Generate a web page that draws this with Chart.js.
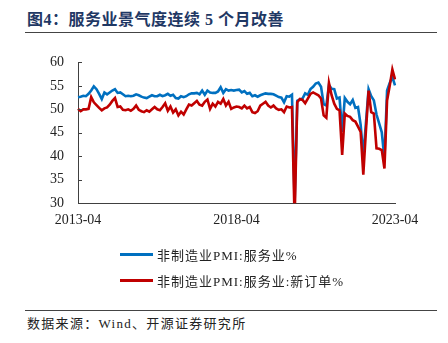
<!DOCTYPE html>
<html>
<head>
<meta charset="utf-8">
<script src="https://cdn.jsdelivr.net/npm/chart.js@4.4.0/dist/chart.umd.min.js"></script>
<style>
  body { margin: 0; width: 448px; height: 343px; background: #fff; position: relative; overflow: hidden;
         font-family: 'Liberation Serif', 'Noto Sans CJK SC', serif; color: #222; }
  #title { position: absolute; left: 27px; top: 10px; line-height: 20px; font-size: 16px; font-weight: bold;
           color: #1f3864; white-space: nowrap; letter-spacing: 0.5px; }
  .rule { position: absolute; left: 25px; width: 412px; height: 1px; background: #444; }
  #chartBox { position: absolute; left: 0; top: 40px; }
  #legend { position: absolute; left: 120px; top: 241px; font-size: 13px; letter-spacing: 1px; }
  .item { display: flex; align-items: center; height: 26px; white-space: nowrap; }
  .swatch { width: 33px; height: 3px; margin-right: 4px; }
  #source { position: absolute; left: 27px; top: 315px; line-height: 17px; font-size: 13px; letter-spacing: 1.3px; }
</style>
</head>
<body>
<div id="title">图4：服务业景气度连续 5 个月改善</div>
<div class="rule" style="top:32px"></div>
<div id="chartBox"><canvas id="myChart" width="448" height="206"></canvas></div>
<div id="legend"></div>
<div class="rule" style="top:310px"></div>
<div id="source">数据来源：Wind、开源证券研究所</div>
<script>
// 2013-04 ～ 2023-04 月度
const firstYear = 2013, firstMonth = 4, monthCount = 121;
const tickLabels = ['2013-04', '2018-04', '2023-04'];
const seriesNames = ['非制造业PMI:服务业%', '非制造业PMI:服务业:新订单%'];

// 服务业商务活动指数
const serviceIndex = [
  52.6, 52.7, 52.9, 52.8, 53.3, 54.0, 54.9, 54.3, 53.3, 52.2, 53.6, 53.2,
  53.6, 54.0, 54.3, 53.5, 53.6, 53.2, 52.8, 52.9, 52.8, 52.9, 53.2, 53.0,
  52.7, 52.5, 52.4, 52.7, 53.0, 52.8, 52.8, 53.1, 52.8, 53.0, 53.3, 52.9,
  53.1, 52.4, 52.3, 52.8, 52.6, 52.8, 53.2, 53.4, 53.4, 53.5, 53.2, 54.0,
  53.1, 54.0, 53.6, 53.5, 53.5, 53.8, 54.7, 53.5, 54.3, 54.0, 54.1, 54.0,
  54.1, 54.2, 53.6, 53.9, 53.3, 53.5, 52.8, 53.0, 52.7, 53.0, 53.2, 53.4,
  53.3, 53.3, 53.2, 52.9, 52.6, 52.5, 51.5, 52.8, 52.7, 53.1, 30.1, 51.8,
  52.1, 52.3, 53.4, 53.1, 54.3, 54.8, 55.5, 55.7, 54.8, 51.1, 50.8, 55.2,
  54.4, 54.3, 52.3, 52.5, 45.2, 52.4, 51.6, 51.1, 52.0, 50.3, 50.5, 46.7,
  40.0, 47.1, 54.3, 52.8, 51.9, 48.9, 47.0, 45.1, 39.4, 54.0, 55.6, 56.9,
  55.1
];

// 服务业新订单指数
const newOrders = [
  50.1, 49.6, 50.0, 50.0, 50.1, 52.6, 51.5, 50.9, 50.3, 49.8, 50.2, 50.4,
  51.0, 51.8, 52.4, 50.5, 50.6, 49.9, 49.8, 50.0, 49.7, 50.1, 50.8, 49.9,
  49.6, 49.4, 49.8, 49.5, 50.0, 50.5, 50.0, 49.8, 50.5, 51.3, 49.7, 50.6,
  49.3, 50.0, 48.7, 49.5, 48.9, 50.0, 51.0, 50.8, 51.3, 51.8, 51.0, 50.8,
  51.6, 52.1, 50.1, 51.2, 50.6, 51.6, 51.2, 52.2, 50.8, 51.6, 50.1, 50.4,
  50.6, 50.5, 50.2, 50.8, 50.2, 50.5, 49.4, 49.2, 49.6, 50.8, 51.2, 51.6,
  50.8, 50.4, 50.8, 50.2, 49.9, 50.0, 49.4, 50.6, 50.4, 50.5, 26.5, 51.5,
  52.2, 52.0, 51.3, 52.3, 53.3, 53.6, 53.3, 53.0, 52.3, 48.7, 48.2, 55.6,
  53.0, 51.2, 50.1, 49.8, 40.3, 49.1, 48.6, 48.4, 47.7, 47.4, 46.3, 45.2,
  36.1, 45.5, 54.0, 49.4, 49.1, 41.7, 41.6, 41.3, 37.4, 51.9, 55.0, 58.5,
  56.4
];

const months = [];
for (let i = 0; i < monthCount; i++) {
  const y = firstYear + Math.floor((firstMonth - 1 + i) / 12);
  const m = (firstMonth - 1 + i) % 12 + 1;
  months.push(y + '-' + String(m).padStart(2, '0'));
}

const colors = ['#0070c0', '#c00000'];
const axisColor = '#404040';
const tickFont = { family: "'Liberation Serif', serif", size: 14 };

// 内向刻度线
const tickMarks = {
  id: 'tickMarks',
  afterDraw(chart) {
    const { ctx, chartArea, scales: { x, y } } = chart;
    ctx.save();
    ctx.strokeStyle = axisColor;
    ctx.lineWidth = 1;
    y.ticks.forEach((t, i) => {
      const py = Math.round(y.getPixelForTick(i)) + 0.5;
      ctx.beginPath();
      ctx.moveTo(chartArea.left, py);
      ctx.lineTo(chartArea.left + 4, py);
      ctx.stroke();
    });
    x.ticks.forEach((t, i) => {
      if (!tickLabels.includes(months[i])) return;
      const px = Math.round(x.getPixelForTick(i)) + 0.5;
      ctx.beginPath();
      ctx.moveTo(px, chartArea.bottom);
      ctx.lineTo(px, chartArea.bottom - 4);
      ctx.stroke();
    });
    ctx.restore();
  }
};

const ctx = document.getElementById('myChart').getContext('2d');
const myChart = new Chart(ctx, {
  type: 'line',
  data: {
    labels: months,
    datasets: [
      { label: seriesNames[0], data: serviceIndex, borderColor: colors[0], borderWidth: 2.6,
        pointRadius: 0, tension: 0, fill: false, order: 1 },
      { label: seriesNames[1], data: newOrders, borderColor: colors[1], borderWidth: 2.6,
        pointRadius: 0, tension: 0, fill: false, order: 0 }
    ]
  },
  options: {
    responsive: false,
    animation: false,
    devicePixelRatio: 1,
    layout: { padding: { left: 36, right: 53, top: 16, bottom: 8 } },
    plugins: { legend: { display: false }, tooltip: { enabled: false } },
    scales: {
      x: {
        type: 'category',
        offset: false,
        grid: { display: false, drawTicks: false },
        border: { display: true, color: axisColor, width: 1 },
        ticks: {
          autoSkip: false, maxRotation: 0, minRotation: 0, padding: 9,
          color: '#222', font: tickFont,
          callback: (v, i) => tickLabels.includes(months[i]) ? months[i] : null
        }
      },
      y: {
        min: 30, max: 60,
        grid: { display: false, drawTicks: false },
        border: { display: true, color: axisColor, width: 1 },
        ticks: { stepSize: 5, padding: 14, color: '#222', font: tickFont }
      }
    }
  },
  plugins: [tickMarks]
});

// 图例
const legend = document.getElementById('legend');
myChart.data.datasets.forEach((ds, i) => {
  const row = document.createElement('div');
  row.className = 'item';
  row.innerHTML = '<span class="swatch" style="background:' + ds.borderColor + '"></span><span>' + ds.label + '</span>';
  legend.appendChild(row);
});
</script>
</body>
</html>
